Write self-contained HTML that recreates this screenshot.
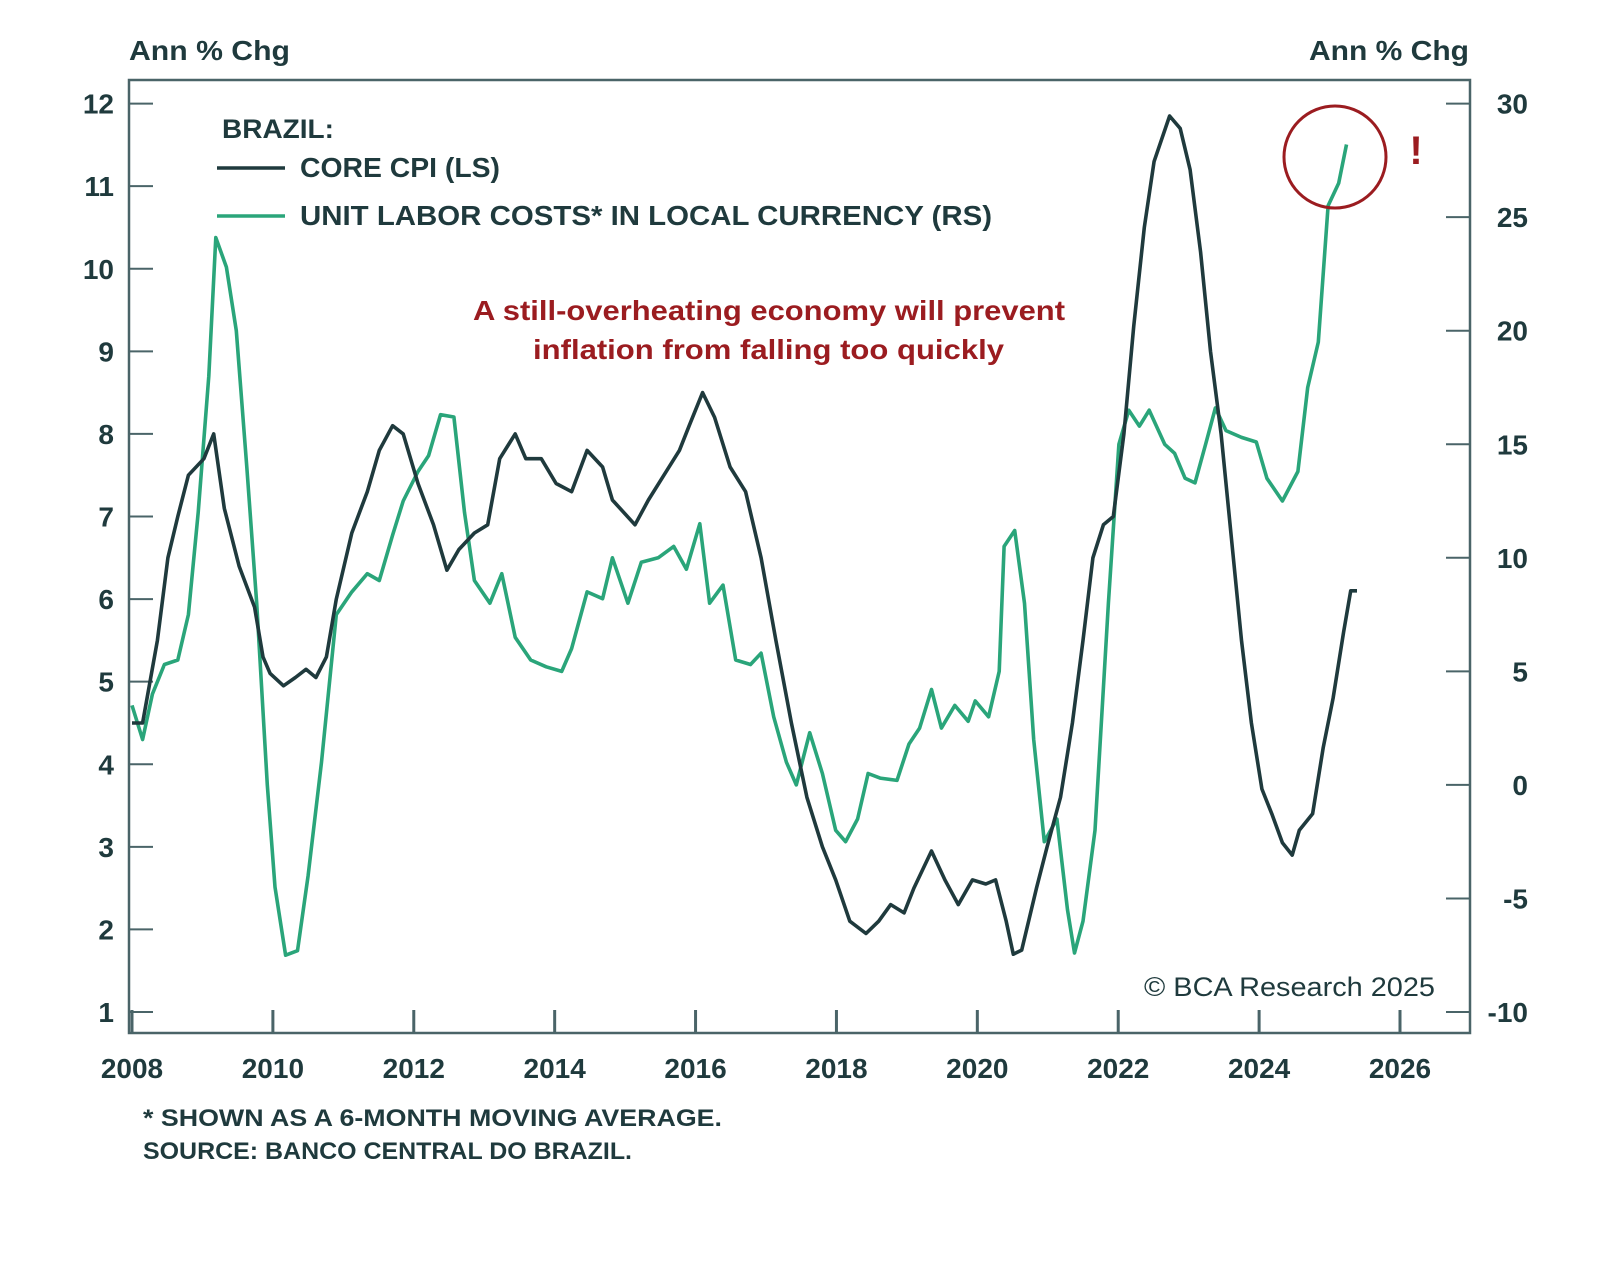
<!DOCTYPE html>
<html><head><meta charset="utf-8"><style>
body{margin:0;background:#fff;}
svg text{font-family:"Liberation Sans",sans-serif;}
</style></head><body>
<svg id="c" width="1600" height="1263" xmlns="http://www.w3.org/2000/svg">
<rect width="1600" height="1263" fill="#fff"/>
<g id="axes"></g>
<g id="series"></g>
<text x="129" y="60" font-size="28" fill="#1f3a3d" font-weight="bold" textLength="161" lengthAdjust="spacingAndGlyphs">Ann % Chg</text>
<text x="1309" y="60" font-size="28" fill="#1f3a3d" font-weight="bold" textLength="160" lengthAdjust="spacingAndGlyphs">Ann % Chg</text>
<g>
<text x="222" y="138" font-size="27" fill="#1f3a3d" font-weight="bold" textLength="112" lengthAdjust="spacingAndGlyphs">BRAZIL:</text>
<line x1="217" y1="168" x2="285" y2="168" stroke="#1f3a3d" stroke-width="3.5"/>
<text x="300" y="177" font-size="28" fill="#1f3a3d" font-weight="bold" textLength="200" lengthAdjust="spacingAndGlyphs">CORE CPI (LS)</text>
<line x1="217" y1="216" x2="285" y2="216" stroke="#2aa57a" stroke-width="3.5"/>
<text x="300" y="225" font-size="28" fill="#1f3a3d" font-weight="bold" textLength="692" lengthAdjust="spacingAndGlyphs">UNIT LABOR COSTS* IN LOCAL CURRENCY (RS)</text>
</g>
<text font-size="28" fill="#9b1c20" font-weight="bold"><tspan x="473" y="320" textLength="592" lengthAdjust="spacingAndGlyphs">A still-overheating economy will prevent</tspan></text>
<text font-size="28" fill="#9b1c20" font-weight="bold" x="533" y="359" textLength="471" lengthAdjust="spacingAndGlyphs">inflation from falling too quickly</text>
<ellipse cx="1335" cy="157" rx="51" ry="51" fill="none" stroke="#9b1c20" stroke-width="3"/>
<text x="1416" y="164" font-size="40" fill="#9b1c20" font-weight="bold" text-anchor="middle">!</text>
<text x="1144" y="996" font-size="27" fill="#1f3a3d" font-family="Liberation Serif" textLength="291" lengthAdjust="spacingAndGlyphs">© BCA Research 2025</text>
<text x="143" y="1126" font-size="24" fill="#1f3a3d" font-weight="bold" textLength="579" lengthAdjust="spacingAndGlyphs">* SHOWN AS A 6-MONTH MOVING AVERAGE.</text>
<text x="143" y="1159" font-size="24" fill="#1f3a3d" font-weight="bold" textLength="489" lengthAdjust="spacingAndGlyphs">SOURCE: BANCO CENTRAL DO BRAZIL.</text>
</svg>
<script>
const cpiDates=[2008.00,2008.15,2008.36,2008.51,2008.65,2008.80,2009.02,2009.16,2009.31,2009.52,2009.74,2009.86,2009.96,2010.15,2010.32,2010.47,2010.61,2010.76,2010.90,2011.12,2011.34,2011.51,2011.70,2011.85,2012.06,2012.28,2012.47,2012.64,2012.86,2013.05,2013.22,2013.44,2013.59,2013.81,2014.02,2014.24,2014.46,2014.68,2014.82,2015.14,2015.33,2015.55,2015.77,2015.91,2016.10,2016.27,2016.49,2016.71,2016.93,2017.14,2017.36,2017.58,2017.80,2017.99,2018.19,2018.42,2018.60,2018.77,2018.96,2019.10,2019.35,2019.54,2019.73,2019.93,2020.12,2020.26,2020.41,2020.51,2020.63,2020.84,2020.99,2021.18,2021.35,2021.50,2021.64,2021.79,2021.93,2022.08,2022.22,2022.37,2022.51,2022.73,2022.88,2023.02,2023.17,2023.31,2023.46,2023.60,2023.75,2023.89,2024.04,2024.18,2024.33,2024.47,2024.57,2024.76,2024.91,2025.05,2025.20,2025.30,2025.39];
const cpiValues=[4.5,4.5,5.5,6.5,7.0,7.5,7.7,8.0,7.1,6.4,5.9,5.3,5.1,4.95,5.05,5.15,5.05,5.3,6.0,6.8,7.3,7.8,8.1,8.0,7.4,6.9,6.35,6.6,6.8,6.9,7.7,8.0,7.7,7.7,7.4,7.3,7.8,7.6,7.2,6.9,7.2,7.5,7.8,8.1,8.5,8.2,7.6,7.3,6.5,5.5,4.5,3.6,3.0,2.6,2.1,1.95,2.1,2.3,2.2,2.5,2.95,2.6,2.3,2.6,2.55,2.6,2.1,1.7,1.75,2.5,3.0,3.6,4.5,5.5,6.5,6.9,7.0,8.0,9.3,10.5,11.3,11.85,11.7,11.2,10.2,9.0,8.0,6.8,5.5,4.5,3.7,3.4,3.05,2.9,3.2,3.4,4.2,4.8,5.6,6.1,6.1];
const ulcDates=[2008.00,2008.15,2008.29,2008.46,2008.65,2008.80,2008.94,2009.09,2009.19,2009.34,2009.48,2009.63,2009.77,2009.92,2010.03,2010.18,2010.35,2010.50,2010.69,2010.90,2011.12,2011.34,2011.51,2011.70,2011.85,2012.06,2012.21,2012.38,2012.57,2012.72,2012.86,2013.08,2013.25,2013.44,2013.66,2013.88,2014.10,2014.24,2014.46,2014.68,2014.82,2015.04,2015.23,2015.47,2015.69,2015.87,2016.06,2016.20,2016.39,2016.57,2016.78,2016.93,2017.11,2017.29,2017.43,2017.62,2017.80,2017.99,2018.13,2018.30,2018.45,2018.62,2018.86,2019.03,2019.18,2019.35,2019.49,2019.68,2019.87,2019.97,2020.16,2020.31,2020.38,2020.53,2020.67,2020.80,2020.95,2021.13,2021.28,2021.38,2021.50,2021.67,2021.86,2022.01,2022.15,2022.30,2022.44,2022.66,2022.80,2022.95,2023.09,2023.24,2023.38,2023.53,2023.75,2023.96,2024.11,2024.33,2024.55,2024.69,2024.84,2024.98,2025.13,2025.24];
const ulcValues=[3.5,2.0,4.0,5.3,5.5,7.5,12,18,24.1,22.8,20,14,8,0,-4.5,-7.5,-7.3,-4,1.0,7.5,8.5,9.3,9.0,11.0,12.5,13.8,14.5,16.3,16.2,12,9.0,8.0,9.3,6.5,5.5,5.2,5.0,6.0,8.5,8.2,10.0,8.0,9.8,10.0,10.5,9.5,11.5,8.0,8.8,5.5,5.3,5.8,3.0,1.0,0.0,2.3,0.5,-2.0,-2.5,-1.5,0.5,0.3,0.2,1.8,2.5,4.2,2.5,3.5,2.8,3.7,3.0,5.0,10.5,11.2,8.0,2.0,-2.5,-1.5,-5.5,-7.4,-6.0,-2.0,8.0,15.0,16.5,15.8,16.5,15.0,14.6,13.5,13.3,15.0,16.6,15.6,15.3,15.1,13.5,12.5,13.8,17.5,19.5,25.5,26.5,28.2];
const leftTicks=[1,2,3,4,5,6,7,8,9,10,11,12];
const rightTicks=[-10,-5,0,5,10,15,20,25,30];
const xTicks=[2008,2010,2012,2014,2016,2018,2020,2022,2024,2026];

const NS='http://www.w3.org/2000/svg';
const TOP=103.6, BOT=1012;
const X=v=>132+(v-2008)*(1400-132)/18;
const YL=v=>BOT-(v-1)*(BOT-TOP)/11;
const YR=v=>BOT-(v+10)*(BOT-TOP)/40;
function mk(t,a,p){const e=document.createElementNS(NS,t);for(const k in a)e.setAttribute(k,a[k]);p.appendChild(e);return e;}
const ax=document.getElementById('axes');
const frame=mk('rect',{x:129,y:80,width:1341,height:953,fill:'none',stroke:'#4a6468','stroke-width':2.5},ax);


leftTicks.forEach(v=>{
  const l=mk('line',{x1:129,x2:153,y1:YL(v),y2:YL(v),stroke:'#4a6468','stroke-width':2},ax);
  
  
  const t=mk('text',{x:114,y:YL(v)+10,'font-size':28,fill:'#1f3a3d','text-anchor':'end','font-weight':'bold'},ax);
  t.textContent=v;
  
  
});
rightTicks.forEach(v=>{
  const l=mk('line',{x1:1446,x2:1470,y1:YR(v),y2:YR(v),stroke:'#4a6468','stroke-width':2},ax);
  
  
  const t=mk('text',{x:1528,y:YR(v)+10,'font-size':28,fill:'#1f3a3d','text-anchor':'end','font-weight':'bold'},ax);
  t.textContent=v;
  
  
});
xTicks.forEach(v=>{
  const l=mk('line',{x1:X(v),x2:X(v),y1:1033,y2:1010,stroke:'#4a6468','stroke-width':3},ax);
  
  
  const t=mk('text',{x:X(v),y:1078,'font-size':28,fill:'#1f3a3d','text-anchor':'middle','font-weight':'bold'},ax);
  t.textContent=v;
  
  
});
const sg=document.getElementById('series');
const p1=mk('path',{d:ulcDates.map((d,i)=>(i?'L':'M')+X(d).toFixed(1)+','+YR(ulcValues[i]).toFixed(1)).join(''),fill:'none',stroke:'#2aa57a','stroke-width':3.6,'stroke-linejoin':'round'},sg);


const p2=mk('path',{d:cpiDates.map((d,i)=>(i?'L':'M')+X(d).toFixed(1)+','+YL(cpiValues[i]).toFixed(1)).join(''),fill:'none',stroke:'#1f3a3d','stroke-width':3.6,'stroke-linejoin':'round'},sg);


</script>
</body></html>
